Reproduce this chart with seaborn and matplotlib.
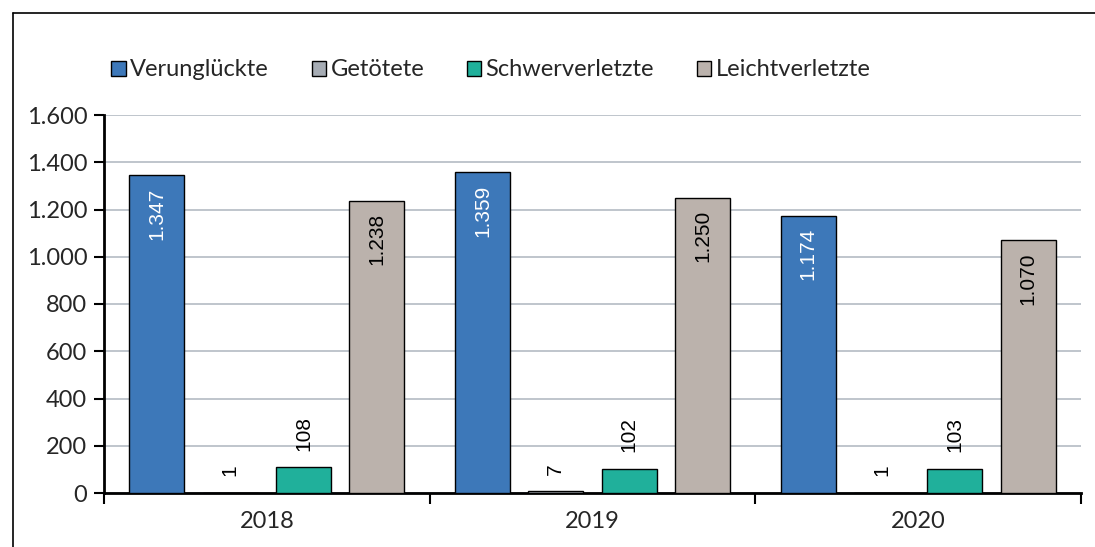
import pandas as pd
import matplotlib.pyplot as plt
import seaborn as sns
from matplotlib.ticker import FuncFormatter, FixedLocator
from matplotlib.lines import Line2D

# Data
years = ["2018", "2019", "2020"]
categories = ["Verunglückte", "Getötete", "Schwerverletzte", "Leichtverletzte"]
verunglueckte = [1347, 1359, 1174]
getoetete = [1, 7, 1]
schwerverletzte = [108, 102, 103]
leichtverletzte = [1238, 1250, 1070]

colors = ["#3D78B9", "#A6ACB4", "#20B09B", "#BBB2AC"]
label_colors = ["white", "black", "black", "black"]

rows = []
for cat, vals in zip(categories, [verunglueckte, getoetete, schwerverletzte, leichtverletzte]):
    for y, v in zip(years, vals):
        rows.append({"Jahr": y, "Kategorie": cat, "Anzahl": v})
df = pd.DataFrame(rows)


def de_fmt(v):
    return f"{int(v):,}".replace(",", ".")


sns.set_style("white")
plt.rcParams["font.family"] = ["Lato", "DejaVu Sans"]

fig = plt.figure(figsize=(10.95, 5.47), dpi=100)
ax = fig.add_axes([104 / 1095, 54 / 547, (1081 - 104) / 1095, (493 - 115) / 547])

sns.barplot(data=df, x="Jahr", y="Anzahl", hue="Kategorie", hue_order=categories,
            palette=colors, saturation=1, width=0.9, gap=0.25, edgecolor="black", linewidth=1,
            errorbar=None, legend=False, ax=ax, zorder=3)

ax.set_ylim(0, 1600)
ax.set_xlim(-0.5, 2.5)
ax.set_yticks(range(0, 1601, 200))
ax.yaxis.set_major_formatter(FuncFormatter(lambda v, p: de_fmt(v)))
ax.yaxis.grid(True, color="#B4BBC3", linewidth=1.2, zorder=0)
ax.set_xlabel("")
ax.set_ylabel("")

# ticks at category boundaries
ax.xaxis.set_major_locator(FixedLocator([-0.5, 0.5, 1.5, 2.5]))
ax.xaxis.set_minor_locator(FixedLocator([0, 1, 2]))
ax.set_xticklabels([])
ax.set_xticklabels(years, minor=True)
ax.tick_params(axis="x", which="major", direction="out", length=8, width=1.5, color="black")
ax.tick_params(axis="x", which="minor", length=0, pad=13, labelsize=17)
ax.tick_params(axis="y", direction="out", length=7, width=1.5, color="black", labelsize=17, pad=5)
ax.tick_params(bottom=True, left=True)

for s in ["top", "right"]:
    ax.spines[s].set_visible(False)
for s in ["left", "bottom"]:
    ax.spines[s].set_linewidth(2)
    ax.spines[s].set_color("black")

# data labels
for cont, lc in zip(ax.containers, label_colors):
    for patch in cont.patches:
        h = patch.get_height()
        xc = patch.get_x() + patch.get_width() / 2
        if h > 500:
            ax.annotate(de_fmt(h), (xc, h), xytext=(0, -9), textcoords="offset points",
                        rotation=90, ha="center", va="top", color=lc, fontsize=15,
                        family="Liberation Sans", zorder=5)
        else:
            ax.annotate(de_fmt(h), (xc, h), xytext=(0, 12), textcoords="offset points",
                        rotation=90, ha="center", va="bottom", color="black", fontsize=15,
                        family="Liberation Sans", zorder=5)

# legend
handles = [plt.Rectangle((0, 0), 1, 1, facecolor=c, edgecolor="black", linewidth=1) for c in colors]
fig.legend(handles, categories, loc="center left", bbox_to_anchor=(102 / 1095, 1 - 70 / 547),
           ncol=4, frameon=False, fontsize=17, handlelength=0.6, handleheight=0.6,
           handletextpad=0.2, columnspacing=1.8, borderaxespad=0)

# outer frame
fig.add_artist(Line2D([13 / 1095, 1], [1 - 13 / 547, 1 - 13 / 547], color="black", linewidth=1.2))
fig.add_artist(Line2D([13 / 1095, 13 / 1095], [0, 1 - 13 / 547], color="black", linewidth=1.2))

fig.savefig("out.png", dpi=100)
